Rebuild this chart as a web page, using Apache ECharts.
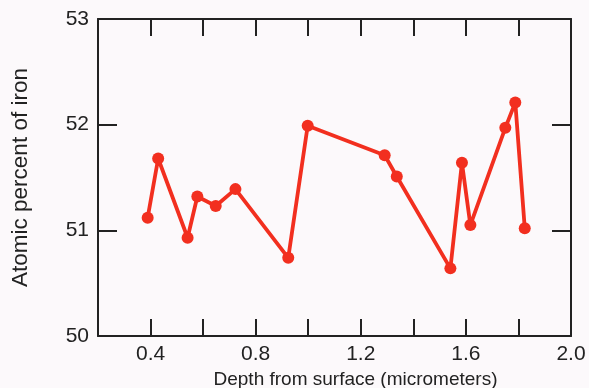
<!DOCTYPE html>
<html>
<head>
<meta charset="utf-8">
<script src="https://cdn.jsdelivr.net/npm/echarts@6/dist/echarts.min.js"></script>
<style>
html,body{margin:0;padding:0;background:#fcf9fb;}
#chart{width:589px;height:388px;}
</style>
</head>
<body>
<div id="chart"></div>
<script>
const depth = [0.389, 0.429, 0.541, 0.578, 0.648, 0.723, 0.924, 0.998, 1.291, 1.337, 1.541, 1.585, 1.617, 1.750, 1.788, 1.824];
const ironPercent = [51.12, 51.68, 50.93, 51.32, 51.23, 51.39, 50.74, 51.99, 51.71, 51.51, 50.64, 51.64, 51.05, 51.97, 52.21, 51.02];
const xTickLabels = ['0.4', '0.8', '1.2', '1.6', '2.0'];
const yTickLabels = ['50', '51', '52', '53'];
const xTitle = 'Depth from surface (micrometers)';
const yTitle = 'Atomic percent of iron';

const font = 'Liberation Sans, Arial, sans-serif';
const ink = '#222222';
const red = '#f22f1f';

const chart = echarts.init(document.getElementById('chart'), null, {renderer: 'canvas'});
const lineStyle = {color: ink, width: 2};
const xLabelFmt = v => {
  const s = Number(v).toFixed(1);
  return xTickLabels.indexOf(s) >= 0 ? s : '';
};
const yLabelFmt = v => {
  const s = String(Math.round(v));
  return yTickLabels.indexOf(s) >= 0 ? s : '';
};
chart.setOption({
  backgroundColor: '#fcf9fb',
  animation: false,
  grid: {left: 98, right: 18, top: 19, bottom: 52, containLabel: false, outerBoundsMode: 'none'},
  xAxis: [{
    type: 'value', min: 0.2, max: 2.0, interval: 0.2, position: 'bottom',
    name: xTitle, nameLocation: 'middle', nameGap: 34,
    nameTextStyle: {fontFamily: font, fontSize: 19, color: ink, padding: [0, 0, 0, 42]},
    axisLine: {show: true, lineStyle: lineStyle},
    axisTick: {show: true, inside: true, length: 17, lineStyle: lineStyle},
    axisLabel: {formatter: xLabelFmt, fontFamily: font, fontSize: 21, color: ink, margin: 8},
    splitLine: {show: false}
  }, {
    type: 'value', min: 0.2, max: 2.0, interval: 0.2, position: 'top',
    axisLine: {show: true, lineStyle: lineStyle},
    axisTick: {show: true, inside: true, length: 17, lineStyle: lineStyle},
    axisLabel: {show: false},
    splitLine: {show: false}
  }],
  yAxis: [{
    type: 'value', min: 50, max: 53, interval: 1, position: 'left',
    name: yTitle, nameLocation: 'middle', nameGap: 66, nameRotate: 90,
    nameTextStyle: {fontFamily: font, fontSize: 22.5, color: ink},
    axisLine: {show: true, lineStyle: lineStyle},
    axisTick: {show: true, inside: true, length: 19, lineStyle: lineStyle},
    axisLabel: {formatter: yLabelFmt, fontFamily: font, fontSize: 21, color: ink, margin: 9},
    splitLine: {show: false}
  }, {
    type: 'value', min: 50, max: 53, interval: 1, position: 'right',
    axisLine: {show: true, lineStyle: lineStyle},
    axisTick: {show: true, inside: true, length: 19, lineStyle: lineStyle},
    axisLabel: {show: false},
    splitLine: {show: false}
  }],
  series: [{
    type: 'line',
    xAxisIndex: 0, yAxisIndex: 0,
    data: depth.map((d, i) => [d, ironPercent[i]]),
    symbol: 'circle', symbolSize: 12,
    lineStyle: {color: red, width: 3.8},
    itemStyle: {color: red},
    z: 5
  }]
});
</script>
</body>
</html>
